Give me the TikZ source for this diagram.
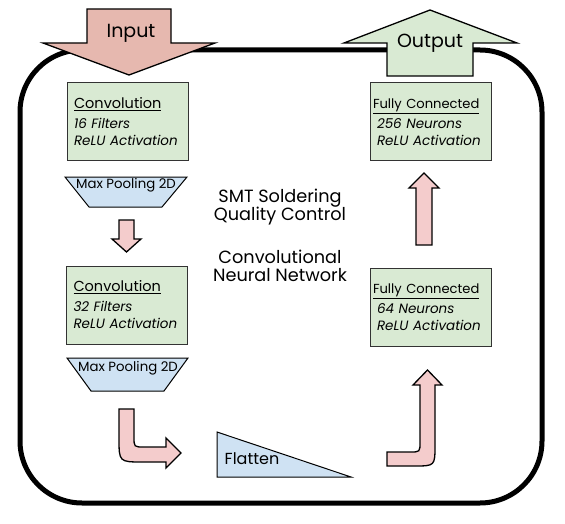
\documentclass[tikz,border=0pt]{standalone}
\usepackage{fontspec}
\setmainfont{Poppins}
\usetikzlibrary{positioning}
\definecolor{inputred}{HTML}{E6B8AF}
\definecolor{flowpink}{HTML}{F4CCCC}
\definecolor{boxgreen}{HTML}{D9EAD3}
\definecolor{poolblue}{HTML}{CFE2F3}
\newcommand{\layertext}[4][14.5]{{\fontsize{#1}{16}\selectfont\underline{#2}}\\[3pt]\textit{#3}\\\textit{#4}}
\tikzset{
    layer/.style={
        draw=black!80, line width=1pt, fill=boxgreen,
        minimum width=121pt, minimum height=78pt, text width=107pt,
        align=left, inner sep=0pt,
        font=\fontsize{13.5}{17}\selectfont
    },
    pool/.style={draw=black, line width=1pt, fill=poolblue},
    flow/.style={draw=black, line width=1.3pt, fill=flowpink},
    io/.style={draw=black, line width=1.3pt},
    iolabel/.style={font=\fontsize{19}{21}\selectfont},
    poollabel/.style={font=\fontsize{13.3}{14}\selectfont, inner sep=0pt},
    title/.style={align=center, font=\fontsize{17.7}{18.5}\selectfont}
}
\begin{document}
\begin{tikzpicture}[x=1pt,y=-1pt]
\useasboundingbox (0,0) rectangle (565,524);
% frame
\draw[line width=5pt, rounded corners=62pt] (20,50) rectangle (542,503);
% input and output
\draw[io, fill=inputred] (87,9) -- (171,9) -- (171,43) -- (215,43) -- (129,75) -- (43,43) -- (87,43) -- cycle;
\node[iolabel] (input) at (131,33) {Input};
\draw[io, fill=boxgreen] (387,76) -- (387,43) -- (344,43) -- (430,10) -- (517,43) -- (473,43) -- (473,76) -- cycle;
\node[iolabel] (output) at (430,43) {Output};
% left column
\node[layer] (conv1) at (127.5,122) {\layertext{Convolution}{16 Filters}{ReLU Activation}};
\draw[pool] (65,177) -- (187,177) -- (162,207) -- (89,207) -- cycle;
\node[poollabel] (pool1) at (126,185) {Max Pooling 2D};
\draw[flow] (119,220) -- (134,220) -- (134,239) -- (141,239) -- (126.5,252) -- (112,239) -- (119,239) -- cycle;
\node[layer] (conv2) at (127,305) {\layertext{Convolution}{32 Filters}{ReLU Activation}};
\draw[pool] (67,358) -- (188,358) -- (164,391) -- (91,391) -- cycle;
\node[poollabel] (pool2) at (128,368) {Max Pooling 2D};
\draw[flow] (119,409) -- (134,409) -- (134,437) .. controls (134,447) .. (144,447) -- (166,447) -- (166,438) -- (181,453) -- (166,468) -- (166,462) -- (143,462) .. controls (119,462) .. (119,438) -- cycle;
% flatten
\draw[pool] (217,432) -- (351,477) -- (217,477) -- cycle;
\node[font=\fontsize{16}{18}\selectfont] (flatten) at (252,459) {Flatten};
% right column
\draw[flow] (387,452) -- (410,452) .. controls (420,452) .. (420,442) -- (420,385) -- (413,385) -- (427.5,370) -- (442,385) -- (435,385) -- (435,445) .. controls (435,466) .. (414,466) -- (387,466) -- cycle;
\node[layer] (fc2) at (430.5,307) {\hspace*{-4pt}\layertext[13.1]{Fully Connected}{64 Neurons}{ReLU Activation}};
\draw[flow] (416,245) -- (416,188) -- (409,188) -- (424,173) -- (439,188) -- (432,188) -- (432,245) -- cycle;
\node[layer] (fc1) at (430.5,122) {\hspace*{-4pt}\layertext[13.1]{Fully Connected}{256 Neurons}{ReLU Activation}};
% title
\node[title] (name) at (280,207) {SMT Soldering\\Quality Control};
\node[title] (model) at (280,266) {Convolutional\\Neural Network};
\end{tikzpicture}
\end{document}
